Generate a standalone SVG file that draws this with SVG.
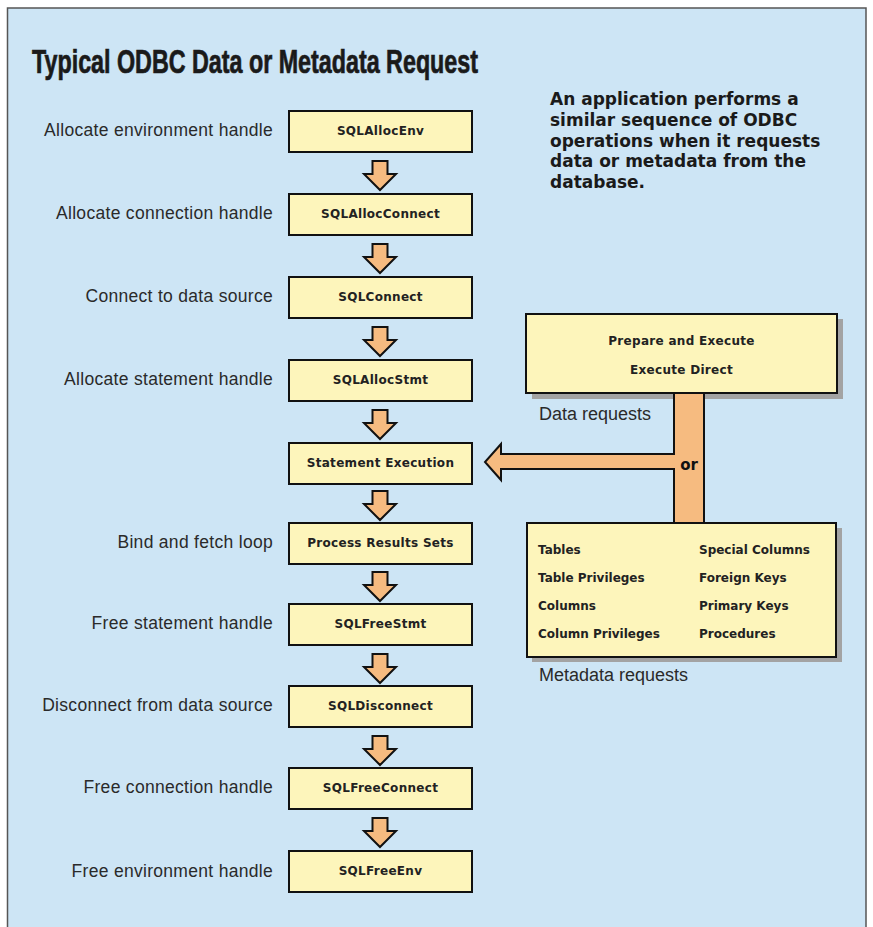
<svg xmlns="http://www.w3.org/2000/svg" width="873" height="927" viewBox="0 0 873 927">
  <defs>
    <style>
      .frame { fill: #cde5f5; stroke: #555; stroke-width: 1.5; }
      .box { fill: #fdf5bb; stroke: #111; stroke-width: 2; }
      .shadow { fill: #a3a3a3; }
      .flow { fill: #f6bb80; stroke: #111; stroke-width: 2; stroke-linejoin: miter; }
      .title { font-family: "Liberation Sans", Arial, sans-serif; font-weight: bold; font-size: 33px; fill: #1a1a1a; stroke: #1a1a1a; stroke-width: 0.7; }
      .note { font-family: "DejaVu Sans", sans-serif; font-weight: bold; font-size: 17px; fill: #1a1a1a; }
      .label { font-family: "Liberation Sans", Arial, sans-serif; font-size: 17.5px; letter-spacing: 0.3px; fill: #2a2a2a; text-anchor: end; }
      .cap { font-family: "Liberation Sans", Arial, sans-serif; font-size: 18px; fill: #2a2a2a; }
      .fn { font-family: "DejaVu Sans", sans-serif; font-weight: bold; font-size: 12px; letter-spacing: 0.3px; fill: #222; text-anchor: middle; }
      .item { font-family: "DejaVu Sans", sans-serif; font-weight: bold; font-size: 12px; fill: #222; }
      .or { font-family: "DejaVu Sans", sans-serif; font-weight: bold; font-size: 15px; fill: #111; text-anchor: middle; }
    </style>
    <!-- hollow down arrow between steps, origin at its top centre -->
    <path id="down" class="flow" d="M-7.5,0 H7.5 V13 H16 L0,29 L-16,13 H-7.5 Z"/>
  </defs>

  <rect x="0" y="0" width="873" height="927" fill="#ffffff"/>
  <rect class="frame" x="7.5" y="8" width="858.5" height="930"/>

  <text class="title" x="32" y="73" textLength="446" lengthAdjust="spacingAndGlyphs">Typical ODBC Data or Metadata Request</text>

  <g id="note">
    <text class="note" x="550" y="105">An application performs a</text>
    <text class="note" x="550" y="126">similar sequence of ODBC</text>
    <text class="note" x="550" y="147">operations when it requests</text>
    <text class="note" x="550" y="167">data or metadata from the</text>
    <text class="note" x="550" y="188">database.</text>
  </g>

  <!-- connectors: step arrows and the data/metadata feed -->
  <g id="connectors">
    <use href="#down" x="380" y="161"/>
    <use href="#down" x="380" y="244"/>
    <use href="#down" x="380" y="327"/>
    <use href="#down" x="380" y="410"/>
    <use href="#down" x="380" y="491"/>
    <use href="#down" x="380" y="572"/>
    <use href="#down" x="380" y="654"/>
    <use href="#down" x="380" y="736"/>
    <use href="#down" x="380" y="818"/>
    <rect class="shadow" x="532" y="319" width="311" height="80"/>
    <rect class="shadow" x="532" y="528" width="310" height="134"/>
    <path id="feed" class="flow" d="M674,393 V454 H501 V444 L485,462 L501,480 V469 H674 V523 H704 V393 Z"/>
    <text class="or" x="689" y="470">or</text>
  </g>

  <g id="step-alloc-env">
    <text class="label" x="273" y="136">Allocate environment handle</text>
    <rect class="box" x="289" y="111" width="183" height="41"/>
    <text class="fn" x="380.5" y="135">SQLAllocEnv</text>
  </g>
  <g id="step-alloc-connect">
    <text class="label" x="273" y="219">Allocate connection handle</text>
    <rect class="box" x="289" y="194" width="183" height="41"/>
    <text class="fn" x="380.5" y="218">SQLAllocConnect</text>
  </g>
  <g id="step-connect">
    <text class="label" x="273" y="302">Connect to data source</text>
    <rect class="box" x="289" y="277" width="183" height="41"/>
    <text class="fn" x="380.5" y="301">SQLConnect</text>
  </g>
  <g id="step-alloc-stmt">
    <text class="label" x="273" y="385">Allocate statement handle</text>
    <rect class="box" x="289" y="360" width="183" height="41"/>
    <text class="fn" x="380.5" y="384">SQLAllocStmt</text>
  </g>
  <g id="step-exec">
    <rect class="box" x="289" y="443" width="183" height="41"/>
    <text class="fn" x="380.5" y="467">Statement Execution</text>
  </g>
  <g id="step-results">
    <text class="label" x="273" y="548">Bind and fetch loop</text>
    <rect class="box" x="289" y="523" width="183" height="41"/>
    <text class="fn" x="380.5" y="547">Process Results Sets</text>
  </g>
  <g id="step-free-stmt">
    <text class="label" x="273" y="629">Free statement handle</text>
    <rect class="box" x="289" y="604" width="183" height="41"/>
    <text class="fn" x="380.5" y="628">SQLFreeStmt</text>
  </g>
  <g id="step-disconnect">
    <text class="label" x="273" y="711">Disconnect from data source</text>
    <rect class="box" x="289" y="686" width="183" height="41"/>
    <text class="fn" x="380.5" y="710">SQLDisconnect</text>
  </g>
  <g id="step-free-connect">
    <text class="label" x="273" y="793">Free connection handle</text>
    <rect class="box" x="289" y="768" width="183" height="41"/>
    <text class="fn" x="380.5" y="792">SQLFreeConnect</text>
  </g>
  <g id="step-free-env">
    <text class="label" x="273" y="877">Free environment handle</text>
    <rect class="box" x="289" y="851" width="183" height="41"/>
    <text class="fn" x="380.5" y="875">SQLFreeEnv</text>
  </g>

  <g id="data-requests">
    <rect class="box" x="526" y="314" width="311" height="79"/>
    <text class="fn" x="681.5" y="345">Prepare and Execute</text>
    <text class="fn" x="681.5" y="374">Execute Direct</text>
    <text class="cap" x="539" y="420">Data requests</text>
  </g>

  <g id="metadata-requests">
    <rect class="box" x="527" y="523" width="309" height="134"/>
    <text class="item" x="538" y="554">Tables</text>
    <text class="item" x="538" y="582">Table Privileges</text>
    <text class="item" x="538" y="610">Columns</text>
    <text class="item" x="538" y="638">Column Privileges</text>
    <text class="item" x="699" y="554">Special Columns</text>
    <text class="item" x="699" y="582">Foreign Keys</text>
    <text class="item" x="699" y="610">Primary Keys</text>
    <text class="item" x="699" y="638">Procedures</text>
    <text class="cap" x="539" y="681">Metadata requests</text>
  </g>
</svg>
